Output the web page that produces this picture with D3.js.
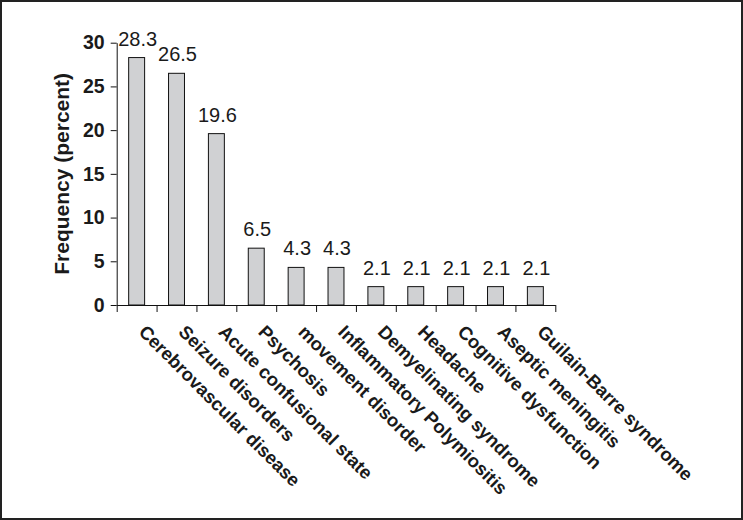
<!DOCTYPE html>
<html>
<head>
<meta charset="utf-8">
<script src="https://cdn.jsdelivr.net/npm/d3@7.9.0/dist/d3.min.js"></script>
<style>
  html, body { margin: 0; padding: 0; background: #fff; }
  svg { display: block; font-family: "Liberation Sans", Arial, sans-serif; }
</style>
</head>
<body>
<svg id="chart" width="743" height="520"></svg>
<script>
// ---------- Data ----------
const categories = [
  "Cerebrovascular disease",
  "Seizure disorders",
  "Acute confusional state",
  "Psychosis",
  "movement disorder",
  "Inflammatory Polymiositis",
  "Demyelinating syndrome",
  "Headache",
  "Cognitive dysfunction",
  "Aseptic meningitis",
  "Guilain-Barre syndrome"
];
const frequency = [28.3, 26.5, 19.6, 6.5, 4.3, 4.3, 2.1, 2.1, 2.1, 2.1, 2.1];
const yTicks = [0, 5, 10, 15, 20, 25, 30];

// ---------- Layout ----------
const width = 743;
const height = 520;
const plot = { left: 116.7, right: 555.3, top: 42.7, bottom: 305 };

const svg = d3.select("#chart");

// frame around the whole picture
svg.append("rect")
  .attr("x", 1).attr("y", 1)
  .attr("width", width - 2).attr("height", height - 2)
  .attr("fill", "none")
  .attr("stroke", "#222")
  .attr("stroke-width", 2);

// ---------- Scales ----------
const x = d3.scaleBand()
  .domain(categories)
  .range([plot.left, plot.right])
  .paddingInner(0.6)
  .paddingOuter(0.3);

const y = d3.scaleLinear()
  .domain([0, 30])
  .range([plot.bottom, plot.top]);

// boundary scale so the x ticks sit between the bars
const xEdge = d3.scaleLinear()
  .domain([0, categories.length])
  .range([plot.left, plot.right]);

// ---------- Axes ----------
const yAxis = svg.append("g")
  .attr("transform", `translate(${plot.left},0)`)
  .call(d3.axisLeft(y).tickValues(yTicks).tickSize(6).tickSizeOuter(0).tickPadding(6));

yAxis.select(".domain").attr("stroke", "#111");
yAxis.selectAll(".tick line").attr("stroke", "#111");
yAxis.selectAll(".tick text")
  .attr("fill", "#1a1a1a")
  .attr("font-size", 19.5)
  .attr("font-weight", "bold");

const xAxis = svg.append("g")
  .attr("transform", `translate(0,${plot.bottom})`)
  .call(d3.axisBottom(xEdge).tickValues(d3.range(categories.length + 1)).tickFormat("").tickSize(7).tickSizeOuter(0));

xAxis.select(".domain").attr("stroke", "#111");
xAxis.selectAll(".tick line").attr("stroke", "#111");

// ---------- Bars ----------
svg.append("g")
  .selectAll("rect")
  .data(frequency)
  .join("rect")
  .attr("x", (d, i) => x(categories[i]))
  .attr("y", (d) => y(d))
  .attr("width", x.bandwidth())
  .attr("height", (d) => y(0) - y(d))
  .attr("fill", "#d0d1d3")
  .attr("stroke", "#111")
  .attr("stroke-width", 1);

// value labels
svg.append("g")
  .selectAll("text")
  .data(frequency)
  .join("text")
  .attr("x", (d, i) => x(categories[i]) + x.bandwidth() / 2 + 1)
  .attr("y", (d) => y(d) - 12)
  .attr("text-anchor", "middle")
  .attr("font-size", 20)
  .attr("fill", "#1a1a1a")
  .text((d) => d.toFixed(1));

// category labels, slanted
svg.append("g")
  .selectAll("text")
  .data(categories)
  .join("text")
  .attr("transform", (d) => `translate(${x(d) + x.bandwidth() / 2 + 1},${plot.bottom + 28}) rotate(45)`)
  .attr("text-anchor", "start")
  .attr("font-size", 18.5)
  .attr("font-weight", "bold")
  .attr("fill", "#1a1a1a")
  .text((d) => d);

// y axis title
svg.append("text")
  .attr("transform", `translate(69,${(plot.top + plot.bottom) / 2}) rotate(-90)`)
  .attr("text-anchor", "middle")
  .attr("font-size", 21)
  .attr("font-weight", "bold")
  .attr("fill", "#1a1a1a")
  .text("Frequency (percent)");
</script>
</body>
</html>
